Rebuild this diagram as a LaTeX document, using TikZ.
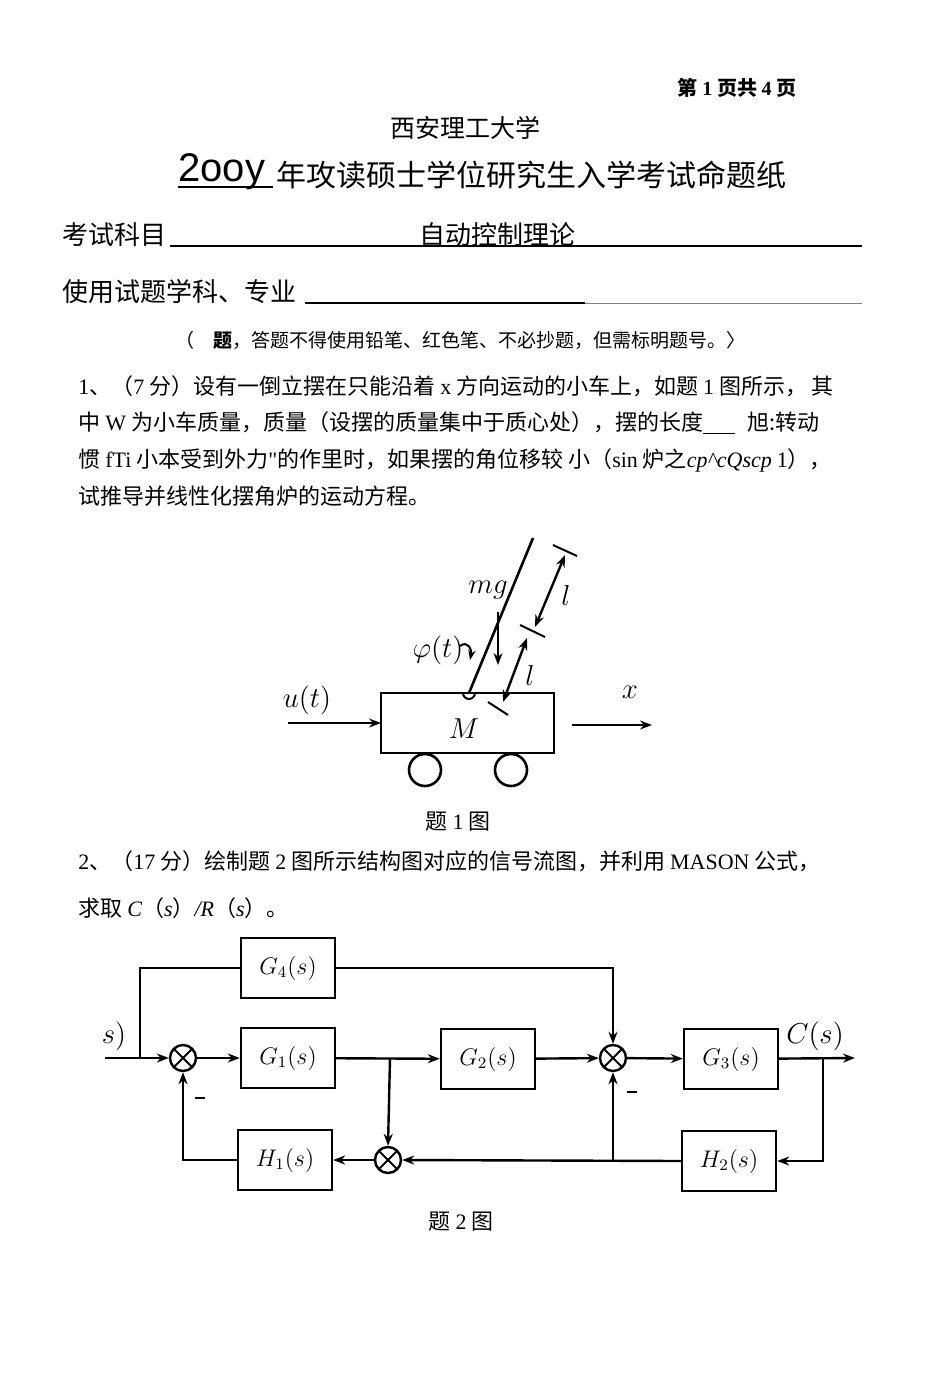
\documentclass[tikz,border=0pt]{standalone}
\usepackage{fontspec}
\setmainfont{Noto Sans CJK SC}
\newfontfamily\lf{Liberation Serif}
\newfontfamily\hf{Liberation Sans}
\usetikzlibrary{arrows.meta,positioning,calc}
\newcommand\Lt[1]{{\lf #1}}
\tikzset{
  blk/.style={draw,line width=1.2pt,minimum width=47pt,minimum height=30pt,inner sep=0pt,font=\large},
  sumn/.style={draw,circle,line width=1.2pt,minimum size=13pt,inner sep=0pt,
    path picture={\draw[line width=1pt] (path picture bounding box.north west)--(path picture bounding box.south east)
      (path picture bounding box.north east)--(path picture bounding box.south west);}},
  sig/.style={line width=1.2pt,-{Stealth[length=6pt]}},
  ln/.style={line width=1.2pt},
  txt/.style={anchor=west,inner sep=0pt,font=\fontsize{11}{13}\selectfont}
}
\begin{document}
\begin{tikzpicture}[x=0.5pt,y=-0.5pt]
\useasboundingbox (0,0) rectangle (950,1390);

% header
\node[font=\fontsize{10}{12}\selectfont\bfseries] (pg) at (737,88) {第 \Lt{\bfseries 1} 页共 \Lt{\bfseries 4} 页};
\node[font=\fontsize{12.5}{14}\selectfont] (uni) at (465,128) {西安理工大学};
\node[font=\fontsize{20}{22}\selectfont\hf, anchor=west, inner sep=0pt] (yr) at (178,172) {2ooy};
\draw[line width=1pt] (178,187) -- (273,187);
\node[font=\fontsize{15}{17}\selectfont, anchor=west, inner sep=0pt] (ttl) at (276,175) {年攻读硕士学位研究生入学考试命题纸};
\node[txt,font=\fontsize{13}{15}\selectfont] (subj) at (62,235) {考试科目};
\draw[line width=1pt] (170,246) -- (862,246);
\node[font=\fontsize{13}{15}\selectfont] (subjv) at (497,235) {自动控制理论};
\node[txt,font=\fontsize{13}{15}\selectfont] (maj) at (62,292) {使用试题学科、专业};
\draw[line width=1pt] (305,303) -- (585,303);
\draw[line width=0.4pt,gray] (585,303) -- (862,303);
\node[font=\fontsize{9.5}{11}\selectfont] (note) at (460,340)
  {（\quad{\bfseries 题}，答题不得使用铅笔、红色笔、不必抄题，但需标明题号。〉};

% question 1
\node[txt] (q1a) at (78,386) {\Lt{1}、（\Lt{7} 分）设有一倒立摆在只能沿着 \Lt{x} 方向运动的小车上，如题 \Lt{1} 图所示， 其};
\node[txt] (q1b) at (78,423) {中 \Lt{W} 为小车质量，质量（设摆的质量集中于质心处），摆的长度\underline{\hspace{16pt}}\hspace{6pt}\textit{旭:}转动};
\node[txt] (q1c) at (78,460) {惯 \Lt{fTi} 小本受到外力\Lt{"}的作里时，如果摆的角位移较 小（\Lt{sin} 炉\textit{之}\Lt{\itshape cp\^{}cQscp} \Lt{1}），};
\node[txt] (q1d) at (78,496) {试推导并线性化摆角炉的运动方程。};

% figure 1
\draw[line width=1.3pt] (381,693) rectangle (554,753);
\node (M) at (464,729) {\Large $M$};
\draw[line width=1.3pt] (425,770) circle (16) (511,770) circle (16);
\draw[line width=1pt] (463,693) arc (180:0:6);
\draw[line width=1.3pt] (469,693) -- (533,538);
\draw[sig] (498,612) -- (498,665);
\node (mg) at (488,590) {\Large $mg$};
\node (phi) at (438,650) {\Large $\varphi(t)$};
\draw[line width=1pt,-{Stealth[length=5pt]}] (460,646) .. controls (468,640) and (472,650) .. (470,660);
\draw[line width=1.2pt,{Stealth[length=6pt]}-{Stealth[length=6pt]}] (503,702) -- (527,638);
\draw[line width=1pt] (488,702) -- (508,715);
\node (l1) at (530,675) {\Large $l$};
\draw[line width=1.2pt,{Stealth[length=6pt]}-{Stealth[length=6pt]}] (535,627) -- (565,555);
\draw[line width=1pt] (520,625) -- (545,637) (553,545) -- (577,556);
\node (l2) at (566,595) {\Large $l$};
\node (ut) at (307,700) {\Large $u(t)$};
\draw[sig] (288,723) -- (381,723);
\node (xl) at (630,692) {\Large $x$};
\draw[sig] (572,725) -- (652,725);
\node (f1) at (458,822) {\fontsize{11}{13}\selectfont 题 \Lt{1} 图};

% question 2
\node[txt] (q2a) at (78,861) {\Lt{2}、（\Lt{17} 分）绘制题 \Lt{2} 图所示结构图对应的信号流图，并利用 \Lt{MASON} 公式，};
\node[txt] (q2b) at (78,908) {求取 \Lt{\itshape C}（\Lt{\itshape s}）\Lt{\itshape /R}（\Lt{\itshape s}）。};

% figure 2
\node[blk] (G4) at (288,968) {$G_4(s)$};
\node[blk] (G1) at (288,1058) {$G_1(s)$};
\node[blk] (G2) at (488,1059) {$G_2(s)$};
\node[blk] (G3) at (731,1059) {$G_3(s)$};
\node[blk] (H1) at (285,1160) {$H_1(s)$};
\node[blk] (H2) at (729,1161) {$H_2(s)$};
\node[sumn] (S1) at (183,1058) {};
\node[sumn] (S2) at (613,1058) {};
\node[sumn] (S3) at (388,1160) {};
\coordinate (in) at (105,1058);
\coordinate (out) at (855,1058);
\node (Rs) at (114,1036) {\Large $s)$};
\node (Cs) at (815,1036) {\Large $C(s)$};
\draw[sig] (in) -- (S1);
\draw[ln] (140,1058) |- (G4.west);
\draw[sig] (G4.east) -| (S2.north);
\draw[sig] (S1) -- (G1);
\draw[sig] (G1) -- (G2);
\draw[sig] (390,1058) -- (S3.north);
\draw[sig] (G2) -- (S2);
\draw[sig] (S2) -- (G3);
\draw[sig] (G3) -- (out);
\draw[sig] (823,1058) |- (H2.east);
\draw[sig] (H2.west) -- (S3.east);
\draw[sig] (613,1161) -- (S2.south);
\draw[sig] (S3) -- (H1);
\draw[sig] (H1.west) -| (S1.south);
\node (m1) at (200,1098) {\rule{5pt}{1.2pt}};
\node (m2) at (632,1092) {\rule{5pt}{1.2pt}};
\node (f2) at (461,1222) {\fontsize{11}{13}\selectfont 题 \Lt{2} 图};
\end{tikzpicture}
\end{document}
